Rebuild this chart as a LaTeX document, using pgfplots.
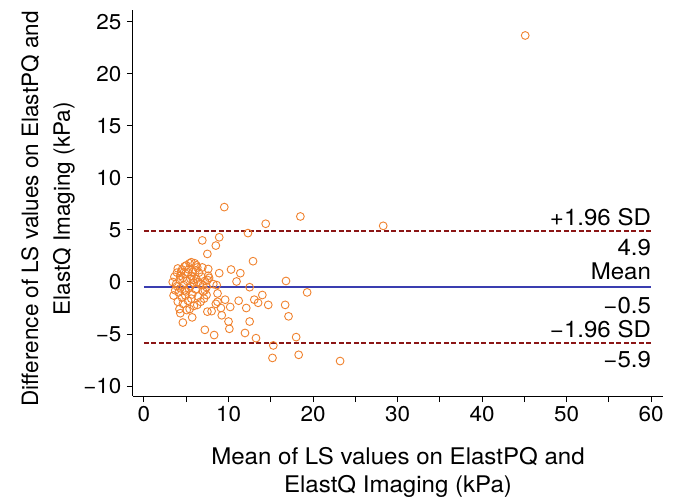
\documentclass[border=0pt]{standalone}
\usepackage{fontspec}
\setmainfont{TeX Gyre Heros}[FakeStretch=1.05]
\newfontfamily\ylabfont{TeX Gyre Heros}
\usepackage{pgfplots}
\pgfplotsset{compat=1.18}
\definecolor{ptorange}{HTML}{F0822E}
\definecolor{meanblue}{HTML}{3A3DB0}
\definecolor{sdred}{HTML}{8B1616}
\begin{document}
\begin{tikzpicture}
\begin{axis}[
 at={(0,0)}, anchor=south west,
 scale only axis, width=530bp, height=386bp,
 xmin=-1.3, xmax=61.4, ymin=-10.96, ymax=26.15,
 axis x line*=bottom, axis y line*=left,
 axis line style={line width=1bp, black},
 tick align=outside, major tick length=6bp, tick style={line width=1bp, black},
 xtick={0,5,...,60}, xticklabels={0,,10,,20,,30,,40,,50,,60},
 ytick={-10,-5,...,25}, yticklabels={−10,−5,0,5,10,15,20,25},
 tick label style={font=\fontsize{21.5}{24}\selectfont},
 xticklabel style={yshift=-1bp},
 yticklabel style={xshift=-2bp},
 xlabel={Mean of LS values on ElastPQ and\\ElastQ Imaging (kPa)},
 ylabel={Difference of LS values on ElastPQ and\\ElastQ Imaging (kPa)},
 xlabel style={at={(axis description cs:0.5,-0.132)}, anchor=north, inner sep=0pt, align=center, font=\fontsize{23}{28}\selectfont},
 ylabel style={at={(axis description cs:-0.1094,0.485)}, anchor=south, rotate=0, inner sep=0pt, align=center, font=\ylabfont\fontsize{22.6}{32}\selectfont},
 clip=false,
]
\addplot[sdred, line width=2bp, dash pattern=on 5bp off 2.5bp] coordinates {(0,4.9) (60,4.9)};
\addplot[sdred, line width=2bp, dash pattern=on 5bp off 2.5bp] coordinates {(0,-5.9) (60,-5.9)};
\addplot[meanblue, line width=2bp] coordinates {(0,-0.5) (60,-0.5)};
\addplot[only marks, mark=o, mark size=3.9bp, mark options={ptorange, line width=0.9bp}] table {
x y
45.1 23.7
9.5 7.2
18.5 6.3
14.4 5.6
28.3 5.4
12.3 4.7
8.9 4.3
6.9 4.0
8.5 3.5
7.5 2.7
12.9 2.0
7.6 1.25
10.3 1.2
11.4 0.85
8.9 0.85
7.5 0.2
10.95 0.05
16.8 0.1
12.5 -0.5
19.3 -1.0
14.0 -1.25
13.05 -1.7
13.5 -2.0
14.7 -2.2
16.7 -2.2
17.1 -3.3
12.5 -3.8
13.25 -5.4
18.0 -5.3
15.3 -6.1
15.2 -7.3
18.3 -7.0
23.2 -7.6
7.0 -0.3
8.2 -0.2
8.6 -0.3
7.2 -0.8
7.1 -1.6
8.7 -1.1
8.7 -1.9
9.6 -1.7
11.2 -1.8
10.2 -2.4
12.1 -2.5
9.1 -2.5
8.5 -2.1
7.5 -2.85
8.0 -2.8
7.4 -1.25
9.2 -3.2
10.0 -3.8
10.1 -4.5
7.2 -4.6
8.3 -5.1
11.95 -4.9
5.7 -3.4
4.6 -3.9
4.3 -3.0
5.05 -2.7
5.6 1.9
6.2 1.6
7.7 0.4
3.6 0.5
3.8 -0.2
3.9 0.9
4.0 1.3
4.1 -1.0
4.2 0.2
4.3 -0.6
4.4 1.0
4.5 -1.5
4.6 0.4
4.7 -0.3
4.8 1.5
4.9 0.8
5.0 -0.9
5.1 0.1
5.2 -1.8
5.3 1.2
5.4 1.8
5.5 -0.4
5.6 0.6
5.7 -1.2
5.8 1.0
5.9 -0.1
6.0 1.8
6.1 -0.7
6.2 0.3
6.3 1.4
6.4 -1.4
6.5 0.9
6.6 -0.2
6.8 0.5
7.0 -0.9
7.2 0.1
3.5 -1.3
3.7 -0.8
4.0 -1.9
4.3 0.6
4.6 -2.1
4.9 -1.3
5.0 1.6
5.3 -0.6
5.6 -1.6
5.8 0.2
6.1 1.1
6.4 0.0
6.7 -1.9
4.5 1.2
5.2 0.9
5.5 0.3
3.4 0.0
3.9 -0.4
4.8 -0.8
6.9 1.4
7.4 -0.5
7.6 0.6
5.9 -2.3
4.2 -2.6
5.4 -2.6
6.3 -2.2
};
\node[anchor=south east, inner sep=0pt, yshift=5bp, font=\fontsize{23}{28}\selectfont] at (axis cs:60,4.9) {+1.96 SD};
\node[anchor=north east, inner sep=0pt, yshift=-8bp, font=\fontsize{23}{28}\selectfont] at (axis cs:60,4.9) {4.9};
\node[anchor=south east, inner sep=0pt, yshift=7bp, font=\fontsize{23}{28}\selectfont] at (axis cs:60,-0.5) {Mean};
\node[anchor=north east, inner sep=0pt, yshift=-10bp, font=\fontsize{23}{28}\selectfont] at (axis cs:60,-0.5) {−0.5};
\node[anchor=south east, inner sep=0pt, yshift=5bp, font=\fontsize{23}{28}\selectfont] at (axis cs:60,-5.9) {−1.96 SD};
\node[anchor=north east, inner sep=0pt, yshift=-8bp, font=\fontsize{23}{28}\selectfont] at (axis cs:60,-5.9) {−5.9};
\end{axis}
\pgfresetboundingbox
\path[use as bounding box] (-133bp,-104bp) rectangle (545bp,396bp);
\end{tikzpicture}
\end{document}
